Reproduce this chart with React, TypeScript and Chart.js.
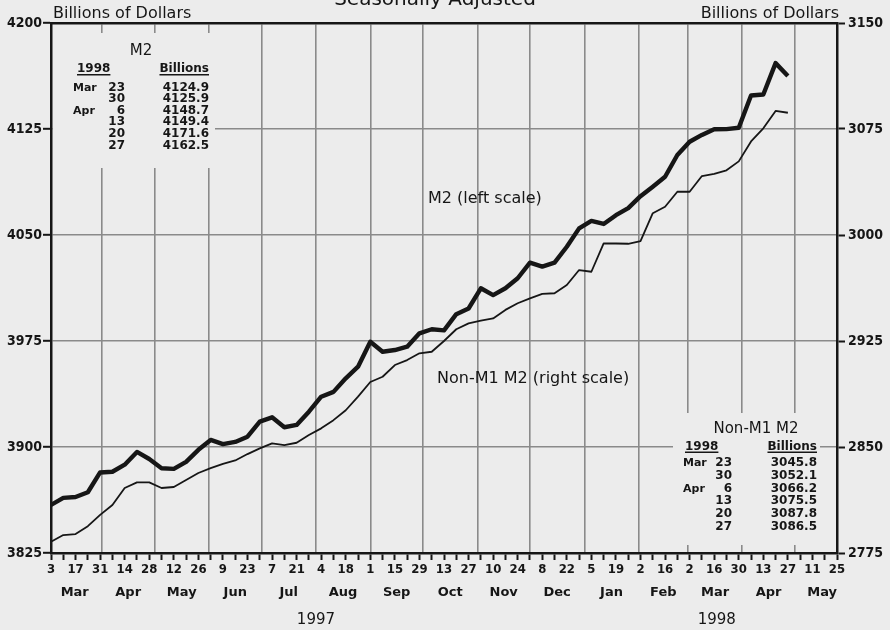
import React, { useEffect, useRef } from 'react';
import { Chart, registerables } from 'chart.js';

Chart.register(...registerables);

// ---- data (weekly, week 0 = Mar 3, 1997) ----
const m2 = [
  3859, 3864, 3864.6, 3868, 3882, 3882.5, 3887.5, 3896.5, 3891.5, 3885,
  3884.5, 3889.5, 3898, 3905, 3902, 3903.6, 3907.3, 3918, 3921, 3914,
  3915.6, 3925, 3935.6, 3939, 3948.6, 3956.8, 3974.5, 3967.4, 3968.6, 3971,
  3980.4, 3983.3, 3982.5, 3994, 3998, 4012.3, 4007.5, 4012.3, 4019.4, 4030.4,
  4027.6, 4030.4, 4041.7, 4054.7, 4060, 4057.8, 4064, 4069, 4077.5, 4084.2,
  4091.2, 4106.6, 4116, 4120.8, 4124.8, 4124.9, 4125.9, 4148.7, 4149.4, 4171.6,
  4162.5,
];
const nonM1M2 = [
  2783, 2787.7, 2788.4, 2794, 2802, 2809, 2821, 2825, 2825, 2821,
  2821.7, 2826.6, 2831.6, 2835, 2838, 2840.5, 2845, 2849, 2852.6, 2851.4,
  2853, 2858.5, 2863.2, 2869, 2876, 2885.6, 2896, 2899.7, 2908, 2911.5,
  2916.3, 2917.4, 2925, 2933.3, 2937.5, 2939.4, 2941, 2947, 2951.7, 2955.2,
  2958.3, 2958.8, 2964.6, 2975.2, 2974, 2994, 2994, 2993.8, 2995.6, 3015.4,
  3020, 3030.6, 3030.6, 3041.7, 3043.2, 3045.8, 3052.1, 3066.2, 3075.5, 3087.8,
  3086.5,
];

// x-axis: weekly ticks, labels every two weeks
const dayLabels = [
  '3', '17', '31', '14', '28', '12', '26', '9', '23', '7', '21', '4', '18', '1', '15', '29',
  '13', '27', '10', '24', '8', '22', '5', '19', '2', '16', '2', '16', '30', '13', '27', '11', '25',
];
const monthLabels = ['Mar', 'Apr', 'May', 'Jun', 'Jul', 'Aug', 'Sep', 'Oct', 'Nov', 'Dec', 'Jan', 'Feb', 'Mar', 'Apr', 'May'];
const monthYears = [1997, 1997, 1997, 1997, 1997, 1997, 1997, 1997, 1997, 1997, 1998, 1998, 1998, 1998, 1998];
const monthIdx = [2, 3, 4, 5, 6, 7, 8, 9, 10, 11, 0, 1, 2, 3, 4];
const yearLabels = ['1997', '1998'];

const leftTicks = [3825, 3900, 3975, 4050, 4125, 4200];
const rightTicks = [2775, 2850, 2925, 3000, 3075, 3150];

const m2TableDates = [['Mar', '23'], ['', '30'], ['Apr', '6'], ['', '13'], ['', '20'], ['', '27']];

// ---- calendar helpers ----
const START = Date.UTC(1997, 2, 3);
const WEEK = 7 * 86400000;
const weekPos = (y: number, m: number, d: number) => (Date.UTC(y, m, d) - START) / WEEK;
const monthStarts = monthIdx.map((m, i) => weekPos(monthYears[i], m, 1));
const monthEnds = monthIdx.map((m, i) => weekPos(monthYears[i], m + 1, 1));
const monthMids = monthStarts.map((s, i) => (s + monthEnds[i]) / 2);
const yearMids = yearLabels.map((y) => {
  const yr = Number(y);
  const s = Math.max(weekPos(yr, 0, 1), monthStarts[0]);
  const e = Math.min(weekPos(yr + 1, 0, 1), monthEnds[monthEnds.length - 1]);
  return (s + e) / 2;
});
const X_MAX = 64;
const weekTicks = Array.from({ length: X_MAX + 1 }, (_, i) => i);

const BG = '#ececec';
const INK = '#161616';
const GRID = '#8a8a8a';
const SANS = '"DejaVu Sans", "Liberation Sans", sans-serif';
const COND = '"DejaVu Sans Condensed", "DejaVu Sans", sans-serif';

const decorPlugin = {
  id: 'decor',
  beforeDraw(chart: any) {
    const c = chart.ctx;
    c.save();
    c.fillStyle = BG;
    c.fillRect(0, 0, chart.width, chart.height);
    c.restore();
  },
  beforeDatasetsDraw(chart: any) {
    const c = chart.ctx;
    c.save();
    const drawTable = (
      box: number[], title: string, titleX: number, titleY: number,
      hdrY: number, yearX: number, monX: number, dayX: number, valX: number,
      rowY0: number, rowStep: number, values: number[],
    ) => {
      c.fillStyle = BG;
      c.fillRect(box[0], box[1], box[2] - box[0], box[3] - box[1]);
      c.fillStyle = INK;
      c.font = `15px ${SANS}`;
      c.textAlign = 'center';
      c.textBaseline = 'alphabetic';
      c.fillText(title, titleX, titleY);
      c.font = `bold 12px ${SANS}`;
      c.textAlign = 'left';
      c.fillText('1998', yearX, hdrY);
      const w1 = c.measureText('1998').width;
      c.fillRect(yearX, hdrY + 2, w1, 1.5);
      c.textAlign = 'right';
      c.fillText('Billions', valX, hdrY);
      const w2 = c.measureText('Billions').width;
      c.fillRect(valX - w2, hdrY + 2, w2, 1.5);
      m2TableDates.forEach((r, i) => {
        const y = rowY0 + i * rowStep;
        if (r[0]) {
          c.font = `bold 11px ${SANS}`;
          c.textAlign = 'left';
          c.fillText(r[0], monX, y);
        }
        c.font = `bold 12px ${SANS}`;
        c.textAlign = 'right';
        c.fillText(r[1], dayX, y);
        c.fillText(values[i].toFixed(1), valX, y);
      });
    };
    drawTable([53, 33, 215, 168], 'M2', 141, 55, 72, 77, 73, 125, 209, 90.5, 11.6, m2.slice(-6));
    drawTable([673, 413, 820, 545], 'Non-M1 M2', 756, 432.5, 449.5, 685, 683, 732, 817, 466.2, 12.7, nonM1M2.slice(-6));
    c.restore();
  },
  afterDraw(chart: any) {
    const c = chart.ctx;
    const xs = chart.scales.x;
    c.save();
    c.fillStyle = INK;
    c.textBaseline = 'alphabetic';
    c.font = `20px ${SANS}`;
    c.textAlign = 'center';
    c.fillText('Seasonally Adjusted', 435, 5);
    c.font = `16px ${SANS}`;
    c.textAlign = 'left';
    c.fillText('Billions of Dollars', 53, 18);
    c.textAlign = 'right';
    c.fillText('Billions of Dollars', 839, 18);
    c.textAlign = 'left';
    c.fillText('M2 (left scale)', 428, 203);
    c.fillText('Non-M1 M2 (right scale)', 437, 383);
    // month row and year row under the week axis
    c.textAlign = 'center';
    c.textBaseline = 'middle';
    c.font = `bold 13px ${SANS}`;
    monthLabels.forEach((m, i) => c.fillText(m, xs.getPixelForValue(monthMids[i]), 593));
    c.font = `15px ${SANS}`;
    yearLabels.forEach((y, i) => c.fillText(y, xs.getPixelForValue(yearMids[i]), 620));
    c.restore();
  },
};

export default function App() {
  const ref = useRef<HTMLCanvasElement>(null);
  useEffect(() => {
    const canvas = ref.current;
    if (!canvas) return;
    const chart = new Chart(canvas, {
      type: 'line',
      data: {
        datasets: [
          {
            label: 'M2',
            data: m2.map((v, i) => ({ x: i, y: v })),
            xAxisID: 'x',
            yAxisID: 'y',
            borderColor: INK,
            borderWidth: 4.4,
            pointRadius: 0,
            tension: 0,
            borderJoinStyle: 'round',
          },
          {
            label: 'Non-M1 M2',
            data: nonM1M2.map((v, i) => ({ x: i, y: v })),
            xAxisID: 'x',
            yAxisID: 'y1',
            borderColor: INK,
            borderWidth: 1.8,
            pointRadius: 0,
            tension: 0,
            borderJoinStyle: 'round',
          },
        ],
      },
      options: {
        responsive: false,
        animation: false,
        devicePixelRatio: 1,
        layout: { padding: 0 },
        plugins: { legend: { display: false }, tooltip: { enabled: false }, title: { display: false } },
        scales: {
          x: {
            type: 'linear',
            position: 'bottom',
            min: 0,
            max: X_MAX,
            afterBuildTicks: (a: any) => { a.ticks = weekTicks.map((v) => ({ value: v })); },
            afterFit: (s: any) => { s.height = 77; },
            ticks: {
              autoSkip: false,
              maxRotation: 0,
              padding: 2,
              color: INK,
              font: { family: COND, size: 13, weight: 'bold' },
              callback: (v: any) => (Number(v) % 2 === 0 ? dayLabels[Number(v) / 2] : ''),
            },
            grid: { drawOnChartArea: false, drawTicks: true, tickLength: 7, tickColor: INK, tickWidth: 2, color: INK },
            border: { display: true, color: INK, width: 2.5 },
          },
          xg: {
            type: 'linear',
            position: 'top',
            min: 0,
            max: X_MAX,
            afterBuildTicks: (a: any) => {
              a.ticks = monthStarts.filter((v) => v > 0 && v < X_MAX).map((v) => ({ value: v }));
            },
            afterFit: (s: any) => { s.height = 23; },
            ticks: { display: false },
            grid: { display: true, drawOnChartArea: true, drawTicks: false, color: GRID, lineWidth: 1.6 },
            border: { display: true, color: INK, width: 2.5 },
          },
          y: {
            type: 'linear',
            position: 'left',
            min: 3825,
            max: 4200,
            afterBuildTicks: (a: any) => { a.ticks = leftTicks.map((v) => ({ value: v })); },
            afterFit: (s: any) => { s.width = 51; },
            ticks: {
              padding: 1,
              color: INK,
              font: { family: COND, size: 14, weight: 'bold' },
              callback: (v: any) => String(v),
            },
            grid: { color: GRID, lineWidth: 1.6, tickColor: INK, tickLength: 8, tickWidth: 2 },
            border: { display: true, color: INK, width: 2.5 },
          },
          y1: {
            type: 'linear',
            position: 'right',
            min: 2775,
            max: 3150,
            afterBuildTicks: (a: any) => { a.ticks = rightTicks.map((v) => ({ value: v })); },
            afterFit: (s: any) => { s.width = 53; },
            ticks: {
              padding: 3,
              color: INK,
              font: { family: COND, size: 14, weight: 'bold' },
              callback: (v: any) => String(v),
            },
            grid: { drawOnChartArea: false, color: INK, tickColor: INK, tickLength: 8, tickWidth: 2 },
            border: { display: true, color: INK, width: 2.5 },
          },
        },
      } as any,
      plugins: [decorPlugin],
    });
    return () => chart.destroy();
  }, []);
  return (
    <div style={{ position: 'fixed', left: 0, top: 0, width: 890, height: 630, background: BG }}>
      <canvas ref={ref} width={890} height={630} style={{ display: 'block', width: 890, height: 630 }} />
    </div>
  );
}
